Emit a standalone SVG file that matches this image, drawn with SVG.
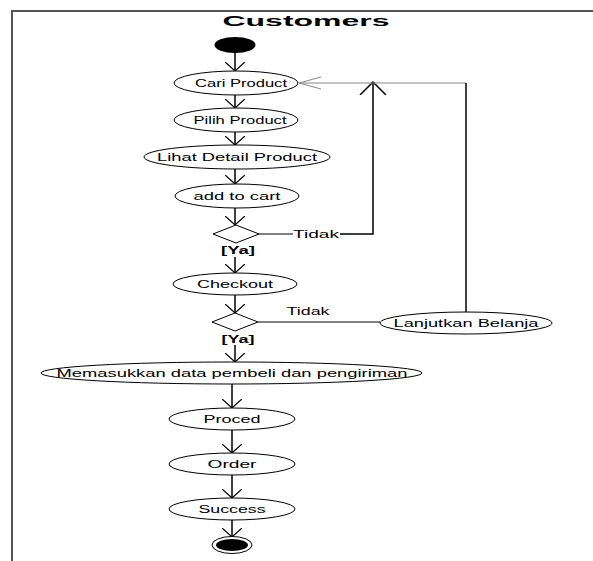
<svg xmlns="http://www.w3.org/2000/svg" width="593" height="561" viewBox="0 0 593 561">
<defs>
<marker id="arr" viewBox="0 0 10 20" refX="9" refY="10" markerWidth="10" markerHeight="20" markerUnits="userSpaceOnUse" orient="auto">
<path d="M0,0 L9,10 L0,20" fill="none" stroke="#000" stroke-width="1.3"/>
</marker>
<marker id="arrBig" viewBox="0 0 14 28" refX="13" refY="14" markerWidth="14" markerHeight="28" markerUnits="userSpaceOnUse" orient="auto">
<path d="M0,1 L13,14 L0,27" fill="none" stroke="#000" stroke-width="1.5"/>
</marker>
<marker id="arrGray" viewBox="0 0 24 14" refX="23" refY="7" markerWidth="24" markerHeight="14" markerUnits="userSpaceOnUse" orient="auto">
<path d="M1,1 L23,7 L1,13" fill="none" stroke="#888" stroke-width="1"/>
</marker>
</defs>
<style>
.act{fill:#fff;stroke:#000;stroke-width:1}
.lbl{font-family:"Liberation Sans",Arial,sans-serif;font-size:10px;fill:#000;text-anchor:middle}
.ln{fill:none;stroke:#000;stroke-width:1.5}
.dec{fill:#fff;stroke:#000;stroke-width:1}
</style>
<rect width="593" height="561" fill="#fff"/>
<g id="frame">
<path d="M12,561 L12,11 L593,11" fill="none" stroke="#555" stroke-width="2"/>
<text x="306" y="26" font-family="Liberation Sans,Arial,sans-serif" font-size="15" font-weight="bold" text-anchor="middle" textLength="167" lengthAdjust="spacingAndGlyphs">Customers</text>
</g>
<g id="connectors">
<line class="ln" x1="235" y1="53" x2="235" y2="71" marker-end="url(#arr)"/>
<line class="ln" x1="235" y1="95" x2="235" y2="108" marker-end="url(#arr)"/>
<line class="ln" x1="235" y1="132" x2="235" y2="145" marker-end="url(#arr)"/>
<line class="ln" x1="235" y1="169" x2="235" y2="184" marker-end="url(#arr)"/>
<line class="ln" x1="235" y1="208" x2="235" y2="225" marker-end="url(#arr)"/>
<line class="ln" x1="235" y1="257" x2="235" y2="273" marker-end="url(#arr)"/>
<line class="ln" x1="235" y1="295" x2="235" y2="313" marker-end="url(#arr)"/>
<line class="ln" x1="235" y1="345" x2="235" y2="362" marker-end="url(#arr)"/>
<line class="ln" x1="232" y1="384" x2="232" y2="408" marker-end="url(#arr)"/>
<line class="ln" x1="232" y1="430" x2="232" y2="453" marker-end="url(#arr)"/>
<line class="ln" x1="232" y1="475" x2="232" y2="498" marker-end="url(#arr)"/>
<line class="ln" x1="232" y1="520" x2="232" y2="537" marker-end="url(#arr)"/>
<line x1="259" y1="234" x2="293" y2="234" stroke="#000" stroke-width="1"/>
<path class="ln" d="M340,234 L373,234 L373,82" marker-end="url(#arrBig)"/>
<line x1="466" y1="83" x2="299" y2="83" stroke="#888" stroke-width="1.2" marker-end="url(#arrGray)"/>
<line x1="466" y1="83" x2="466" y2="312" stroke="#000" stroke-width="1.5"/>
<line x1="258" y1="322" x2="380" y2="322" stroke="#000" stroke-width="1"/>
<text class="lbl" x="316" y="238" textLength="46" lengthAdjust="spacingAndGlyphs">Tidak</text>
<text class="lbl" x="308" y="315" textLength="43" lengthAdjust="spacingAndGlyphs">Tidak</text>
<text class="lbl" x="238" y="254" font-weight="bold" textLength="34" lengthAdjust="spacingAndGlyphs">[Ya]</text>
<text class="lbl" x="238" y="343" font-weight="bold" textLength="33" lengthAdjust="spacingAndGlyphs">[Ya]</text>
</g>
<g id="start"><ellipse cx="235" cy="45" rx="20.5" ry="8" fill="#000"/></g>
<g id="cari"><ellipse class="act" cx="236" cy="83" rx="62" ry="12"/><text class="lbl" x="241" y="87" textLength="92" lengthAdjust="spacingAndGlyphs">Cari Product</text></g>
<g id="pilih"><ellipse class="act" cx="236" cy="120" rx="62" ry="12"/><text class="lbl" x="240" y="124" textLength="93" lengthAdjust="spacingAndGlyphs">Pilih Product</text></g>
<g id="lihat"><ellipse class="act" cx="237" cy="157" rx="93" ry="12"/><text class="lbl" x="237" y="161" textLength="160" lengthAdjust="spacingAndGlyphs">Lihat Detail Product</text></g>
<g id="cart"><ellipse class="act" cx="237" cy="196" rx="62" ry="12"/><text class="lbl" x="237" y="200" textLength="87" lengthAdjust="spacingAndGlyphs">add to cart</text></g>
<g id="decision1"><polygon class="dec" points="213,234 236,225 259,234 236,243"/></g>
<g id="checkout"><ellipse class="act" cx="235" cy="284" rx="62" ry="11"/><text class="lbl" x="235" y="288" textLength="76" lengthAdjust="spacingAndGlyphs">Checkout</text></g>
<g id="decision2"><polygon class="dec" points="212,322 235,313 258,322 235,331"/></g>
<g id="lanjutkan"><ellipse class="act" cx="466" cy="323" rx="86" ry="11"/><text class="lbl" x="466" y="327" textLength="145" lengthAdjust="spacingAndGlyphs">Lanjutkan Belanja</text></g>
<g id="memasukkan"><ellipse class="act" cx="231.5" cy="373" rx="190.5" ry="11"/><text class="lbl" x="232" y="377" textLength="351" lengthAdjust="spacingAndGlyphs">Memasukkan data pembeli dan pengiriman</text></g>
<g id="proced"><ellipse class="act" cx="232" cy="419" rx="63" ry="11"/><text class="lbl" x="232" y="423" textLength="57" lengthAdjust="spacingAndGlyphs">Proced</text></g>
<g id="order"><ellipse class="act" cx="232" cy="464" rx="63" ry="11"/><text class="lbl" x="232" y="468" textLength="49" lengthAdjust="spacingAndGlyphs">Order</text></g>
<g id="success"><ellipse class="act" cx="232" cy="509" rx="63" ry="11"/><text class="lbl" x="232" y="513" textLength="67" lengthAdjust="spacingAndGlyphs">Success</text></g>
<g id="end"><ellipse cx="232" cy="545" rx="20" ry="8.5" fill="#fff" stroke="#000" stroke-width="1"/><ellipse cx="232" cy="545" rx="16" ry="6" fill="#000"/></g>
</svg>
